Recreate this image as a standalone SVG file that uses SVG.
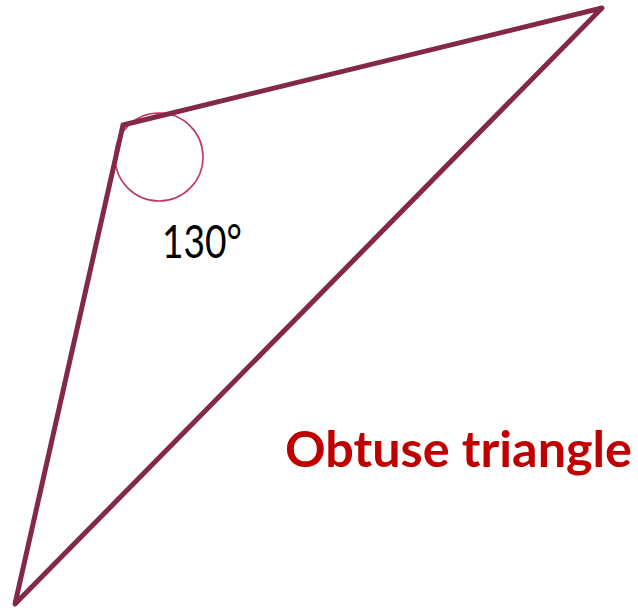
<svg xmlns="http://www.w3.org/2000/svg" width="638" height="610" viewBox="0 0 638 610">
<style>
.edge{fill:none;stroke:#84284a;stroke-width:5;stroke-linejoin:round;stroke-linecap:round}
.arc{fill:none;stroke:#c0396a;stroke-width:1.6}
.lbl{font-family:Lato,"Open Sans","Liberation Sans",sans-serif;font-size:46px;fill:#000}
.title{font-family:Lato,"Open Sans","Liberation Sans",sans-serif;font-size:50px;font-weight:bold;fill:#c00000}
</style>
<rect width="638" height="610" fill="#fff"/>
<g id="angle">
<circle class="arc" cx="159" cy="157" r="44"/>
<text class="lbl" x="162" y="258" textLength="80" lengthAdjust="spacingAndGlyphs">130°</text>
</g>
<g id="triangle">
<polygon class="edge" points="123,125 602,8 15,604"/>
</g>
<g id="label">
<text class="title" x="285" y="467" textLength="347" lengthAdjust="spacingAndGlyphs">Obtuse triangle</text>
</g>
</svg>
